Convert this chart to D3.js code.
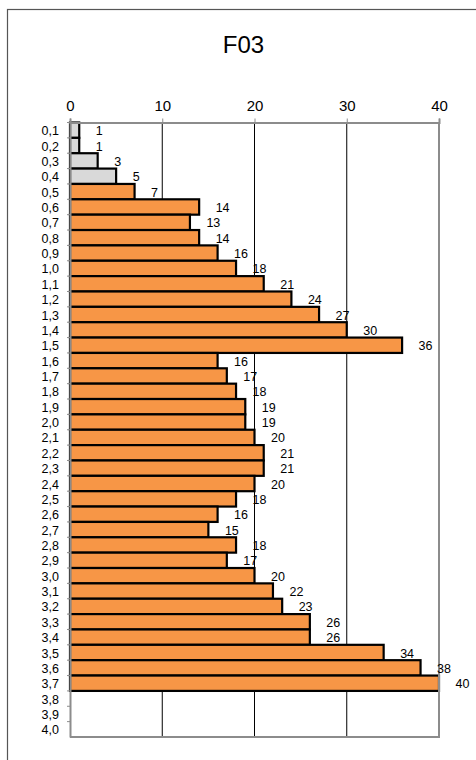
<!DOCTYPE html>
<html>
<head>
<meta charset="utf-8">
<script src="https://cdn.jsdelivr.net/npm/d3@7"></script>
<style>
  html, body { margin: 0; padding: 0; background: #fff; }
  svg { display: block; }
  text { font-family: "Liberation Sans", Arial, sans-serif; fill: #000; }
</style>
</head>
<body>
<script>
// Class labels (vertical axis)
const categories = ["0,1","0,2","0,3","0,4","0,5","0,6","0,7","0,8","0,9","1,0",
  "1,1","1,2","1,3","1,4","1,5","1,6","1,7","1,8","1,9","2,0",
  "2,1","2,2","2,3","2,4","2,5","2,6","2,7","2,8","2,9","3,0",
  "3,1","3,2","3,3","3,4","3,5","3,6","3,7","3,8","3,9","4,0"];

// Counts per class (null = no bar)
const counts = [1,1,3,5,7,14,13,14,16,18,
  21,24,27,30,36,16,17,18,19,19,
  20,21,21,20,18,16,15,18,17,20,
  22,23,26,26,34,38,40,null,null,null];

// Classes drawn in grey rather than orange
const greyClasses = ["0,1","0,2","0,3","0,4"];

// Horizontal axis ticks
const xTicks = [0, 10, 20, 30, 40];

const title = "F03";

const W = 476, H = 760;
const svg = d3.select("body").append("svg").attr("width", W).attr("height", H);

// Outer chart frame
svg.append("rect")
  .attr("x", 7.5).attr("y", 9.5)
  .attr("width", W + 20).attr("height", H + 20)
  .attr("fill", "none").attr("stroke", "#555").attr("stroke-width", 1.2);

// Title
svg.append("text")
  .attr("x", 243.5).attr("y", 52.5)
  .attr("text-anchor", "middle")
  .style("font-size", "24px")
  .text(title);

const plot = { left: 70, right: 439, top: 122.5, bottom: 737 };

const x = d3.scaleLinear().domain([0, 40]).range([plot.left, plot.right]);
const y = d3.scaleBand().domain(categories).range([plot.top, plot.bottom]).padding(0);

const data = categories.map((c, i) => ({ cat: c, value: counts[i] }));

// Vertical grid lines
svg.append("g")
  .selectAll("line")
  .data(xTicks.filter(t => t > 0 && t < 40))
  .join("line")
  .attr("x1", d => x(d)).attr("x2", d => x(d))
  .attr("y1", plot.top).attr("y2", plot.bottom)
  .attr("stroke", "#000").attr("stroke-width", 1);

// Bars
svg.append("g")
  .selectAll("rect")
  .data(data.filter(d => d.value != null))
  .join("rect")
  .attr("x", x(0))
  .attr("y", d => y(d.cat))
  .attr("width", d => x(d.value) - x(0))
  .attr("height", y.bandwidth())
  .attr("fill", d => greyClasses.includes(d.cat) ? "#d9d9d9" : "#f79646")
  .attr("stroke", "#000")
  .attr("stroke-width", 2.2);

// Plot area border (right and bottom)
svg.append("path")
  .attr("d", `M${plot.right},${plot.top}V${plot.bottom}H${plot.left}`)
  .attr("fill", "none").attr("stroke", "#8c8c8c").attr("stroke-width", 2);

// Top value axis
const xAxis = d3.axisTop(x).tickValues(xTicks).tickSize(4).tickPadding(8).tickFormat(d3.format("d"));
const gx = svg.append("g").attr("transform", `translate(0,${plot.top})`).call(xAxis);
gx.select(".domain").attr("stroke", "#8c8c8c").attr("stroke-width", 2);
gx.selectAll(".tick line").attr("stroke", "#8c8c8c");
gx.selectAll(".tick text")
  .style("font-size", "15px")
  .attr("font-family", null);

// Left category axis
const yAxis = d3.axisLeft(y).tickSize(0).tickPadding(11);
const gy = svg.append("g").attr("transform", `translate(${plot.left},0)`).call(yAxis);
gy.select(".domain").attr("stroke", "#8c8c8c").attr("stroke-width", 2);
gy.selectAll(".tick text")
  .style("font-size", "12.5px")
  .attr("dy", "0.4em")
  .attr("font-family", null);

// Small tick marks on category boundaries
svg.append("g")
  .selectAll("line")
  .data(categories)
  .join("line")
  .attr("x1", plot.left - 3).attr("x2", plot.left)
  .attr("y1", d => y(d)).attr("y2", d => y(d))
  .attr("stroke", "#8c8c8c").attr("stroke-width", 1);

// Value labels
svg.append("g")
  .selectAll("text")
  .data(data.filter(d => d.value != null))
  .join("text")
  .attr("x", d => x(d.value) + 16.5)
  .attr("y", d => y(d.cat) + y.bandwidth() / 2 + 5)
  .style("font-size", "12.5px")
  .text(d => d.value);
</script>
</body>
</html>
